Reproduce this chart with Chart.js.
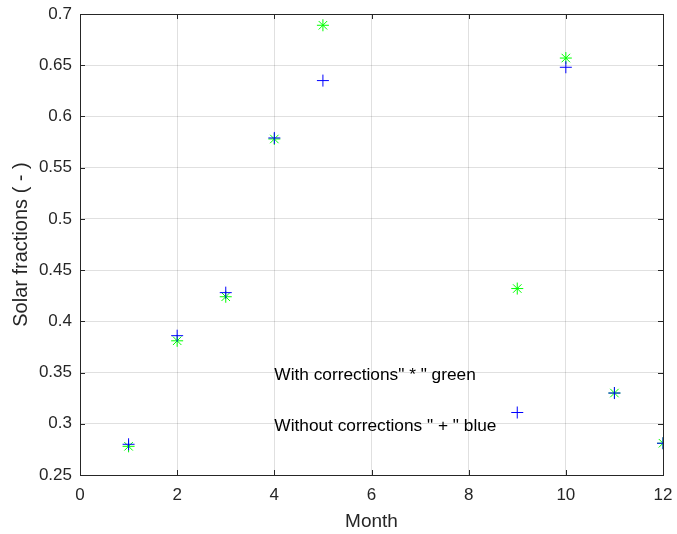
<!DOCTYPE html>
<html lang="en">
<head>
    <meta charset="UTF-8">
    <title>Solar fractions</title>
    <script src="https://cdn.jsdelivr.net/npm/chart.js"></script>
    <style>
        body {
            margin: 0;
            background: #fff;
        }
        .chart-container {
            position: relative;
            width: 677px;
            height: 534px;
        }
    </style>
</head>
<body>
    <div class="chart-container">
        <canvas id="solarChart"></canvas>
    </div>

    <script>
        // Monthly solar fractions
        const months = [1, 2, 3, 4, 5, 9, 10, 11, 12];
        const withoutCorrections = [0.280, 0.386, 0.428, 0.579, 0.635, 0.311, 0.648, 0.330, 0.281];
        const withCorrections = [0.278, 0.381, 0.424, 0.578, 0.689, 0.432, 0.657, 0.330, 0.281];

        const xTicks = [0, 2, 4, 6, 8, 10, 12];
        const yTicks = [0.25, 0.3, 0.35, 0.4, 0.45, 0.5, 0.55, 0.6, 0.65, 0.7];

        // Text notes placed in data coordinates
        const notes = [
            { x: 4, y: 0.347, text: 'With corrections" * " green' },
            { x: 4, y: 0.298, text: 'Without corrections " + " blue' }
        ];

        const font = 'Liberation Sans, Arial, sans-serif';
        const ink = '#262626';

        // Matlab style box with inward ticks, plus the text notes
        const boxPlugin = {
            id: 'box',
            afterDraw(chart) {
                const { ctx, chartArea: a, scales } = chart;
                ctx.save();
                ctx.strokeStyle = ink;
                ctx.lineWidth = 1;
                ctx.strokeRect(Math.round(a.left) + 0.5, Math.round(a.top) + 0.5,
                    Math.round(a.right - a.left), Math.round(a.bottom - a.top));
                const len = 5;
                ctx.beginPath();
                xTicks.forEach(v => {
                    const px = Math.round(scales.x.getPixelForValue(v)) + 0.5;
                    ctx.moveTo(px, a.bottom);
                    ctx.lineTo(px, a.bottom - len);
                    ctx.moveTo(px, a.top);
                    ctx.lineTo(px, a.top + len);
                });
                yTicks.forEach(v => {
                    const py = Math.round(scales.y.getPixelForValue(v)) + 0.5;
                    ctx.moveTo(a.left, py);
                    ctx.lineTo(a.left + len, py);
                    ctx.moveTo(a.right, py);
                    ctx.lineTo(a.right - len, py);
                });
                ctx.stroke();

                ctx.fillStyle = '#000';
                ctx.font = '17.3px ' + font;
                ctx.textAlign = 'left';
                ctx.textBaseline = 'middle';
                notes.forEach(n => {
                    ctx.fillText(n.text, scales.x.getPixelForValue(n.x), scales.y.getPixelForValue(n.y));
                });
                ctx.restore();
            }
        };

        const ctx = document.getElementById('solarChart').getContext('2d');
        new Chart(ctx, {
            type: 'scatter',
            data: {
                datasets: [{
                    label: 'Without corrections',
                    data: months.map((m, i) => ({ x: m, y: withoutCorrections[i] })),
                    pointStyle: 'cross',
                    pointRadius: 6,
                    borderColor: '#0000ff',
                    backgroundColor: '#0000ff',
                    borderWidth: 1
                }, {
                    label: 'With corrections',
                    data: months.map((m, i) => ({ x: m, y: withCorrections[i] })),
                    pointStyle: 'star',
                    pointRadius: 6,
                    borderColor: '#00ff00',
                    backgroundColor: '#00ff00',
                    borderWidth: 1
                }]
            },
            options: {
                responsive: true,
                maintainAspectRatio: false,
                animation: false,
                events: [],
                layout: {
                    padding: { left: 0, top: 14, right: 14, bottom: 0 }
                },
                plugins: {
                    legend: { display: false },
                    tooltip: { enabled: false }
                },
                scales: {
                    x: {
                        type: 'linear',
                        min: 0,
                        max: 12,
                        afterBuildTicks: scale => {
                            scale.ticks = xTicks.map(v => ({ value: v }));
                        },
                        afterFit: scale => {
                            scale.height = 59;
                            scale.paddingLeft = 0;
                            scale.paddingRight = 0;
                        },
                        grid: {
                            color: 'rgba(0, 0, 0, 0.12)',
                            drawTicks: false
                        },
                        border: { display: false },
                        ticks: {
                            color: ink,
                            padding: 10,
                            maxRotation: 0,
                            font: { family: font, size: 17 }
                        },
                        title: {
                            display: true,
                            text: 'Month',
                            color: ink,
                            padding: { top: 0, bottom: 1 },
                            font: { family: font, size: 19 }
                        }
                    },
                    y: {
                        min: 0.25,
                        max: 0.7,
                        afterBuildTicks: scale => {
                            scale.ticks = yTicks.map(v => ({ value: v }));
                        },
                        afterFit: scale => {
                            scale.width = 80;
                            scale.paddingTop = 0;
                            scale.paddingBottom = 0;
                        },
                        grid: {
                            color: 'rgba(0, 0, 0, 0.12)',
                            drawTicks: false
                        },
                        border: { display: false },
                        ticks: {
                            color: ink,
                            padding: 8,
                            font: { family: font, size: 17 },
                            callback: v => String(Number(v.toFixed(2)))
                        },
                        title: {
                            display: true,
                            text: 'Solar fractions ( - )',
                            color: ink,
                            padding: { top: 9, bottom: 0 },
                            font: { family: font, size: 20 }
                        }
                    }
                }
            },
            plugins: [boxPlugin]
        });
    </script>
</body>
</html>
